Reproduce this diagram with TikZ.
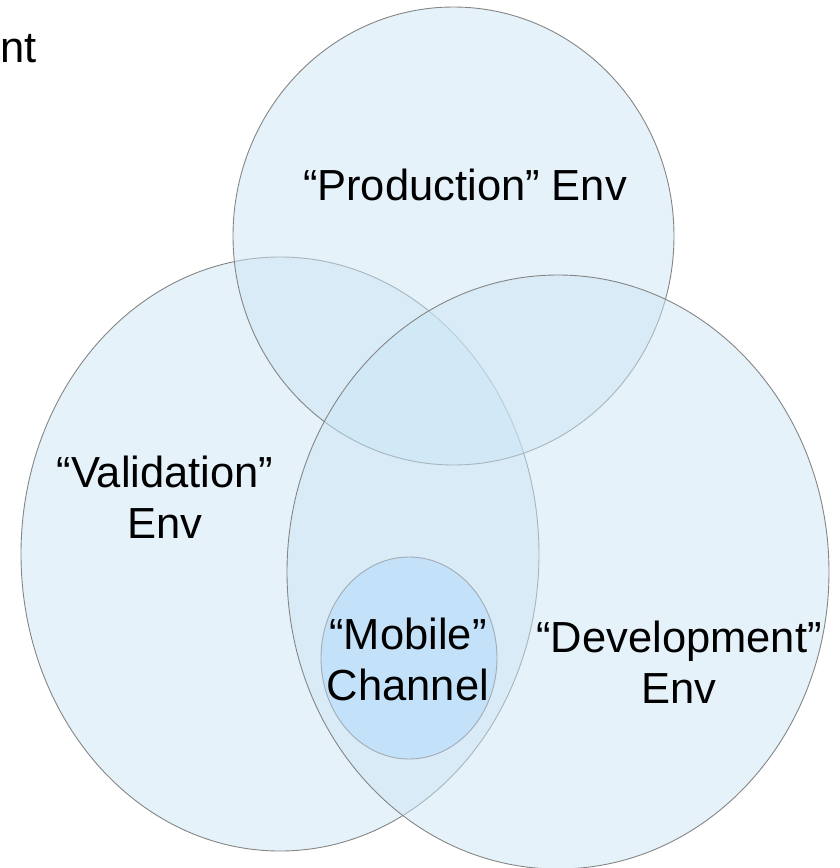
\documentclass[tikz,border=0pt]{standalone}
\usepackage{fontspec}
\setmainfont{Liberation Sans}
\definecolor{vennfill}{HTML}{CBE5F5}
\definecolor{vennline}{HTML}{858585}
\definecolor{mobfill}{HTML}{C3E1F8}
\definecolor{mobline}{HTML}{A3ABB3}
\begin{document}
\begin{tikzpicture}[x=1pt,y=-1pt,
  venn/.style={fill=vennfill,fill opacity=0.5,draw=vennline,line width=0.9pt},
  mob/.style={fill=mobfill,draw=mobline,line width=0.9pt},
  lbl/.style={align=center,inner sep=0pt,font=\fontsize{43.5}{51}\selectfont}]
\useasboundingbox (0,0) rectangle (839,868);
\draw[venn] (280,554) ellipse [x radius=259, y radius=297];
\draw[venn] (453.5,236) ellipse [x radius=220.5, y radius=229];
\draw[venn] (558,572) ellipse [x radius=271, y radius=297];
\draw[mob] (409,658) ellipse [x radius=88, y radius=101];
\node[lbl,anchor=base] (prod) at (465,200) {“Production” Env};
\node[lbl,anchor=base] (val) at (165,538) {“Validation”\\Env};
\node[lbl,anchor=base] (mobt) at (408,700) {“Mobile”\\Channel};
\node[lbl,anchor=base] (dev) at (679,703) {“Development”\\Env};
\node[lbl,anchor=base west] (cut) at (0.5,62) {nt};
\end{tikzpicture}
\end{document}
